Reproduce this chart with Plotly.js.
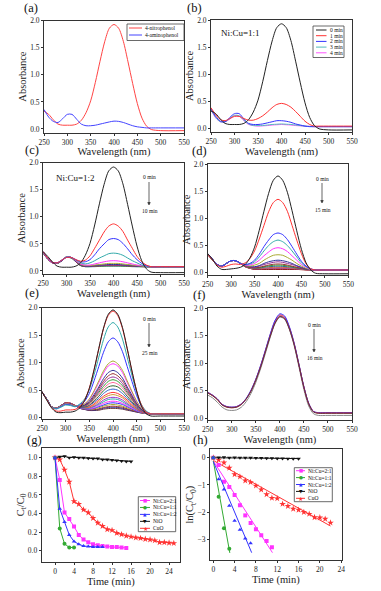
<!DOCTYPE html>
<html><head><meta charset="utf-8">
<script src="https://cdn.plot.ly/plotly-3.0.1.min.js"></script>
<style>html,body{margin:0;padding:0;background:#fff}#plot{width:381px;height:591px}</style>
</head><body><div id="plot"></div>
<script>
// ---------- DATA ----------
const W = [250,260,270,280,290,300,310,320,330,340,350,360,370,380,390,400,410,420,430,440,450,460,470,480,500,550];

// (a)
const nitrophenol = [0.33,0.27,0.17,0.09,0.07,0.07,0.07,0.09,0.16,0.30,0.52,0.86,1.25,1.61,1.86,1.93,1.86,1.62,1.24,0.84,0.47,0.20,0.05,-0.01,-0.03,-0.03];
const aminophenol = [0.36,0.22,0.14,0.12,0.19,0.27,0.27,0.18,0.09,0.06,0.06,0.07,0.09,0.11,0.13,0.145,0.14,0.12,0.09,0.06,0.04,0.03,0.02,0.02,0.02,0.02];

// (b) Ni:Cu = 1:1
const bNames = ['0 min','1 min','2 min','3 min','4 min'];
const b0 = [0.32,0.27,0.17,0.09,0.07,0.07,0.07,0.09,0.16,0.30,0.52,0.86,1.25,1.61,1.86,1.93,1.86,1.62,1.24,0.84,0.47,0.20,0.05,-0.01,-0.03,-0.03];
const b1 = [0.38,0.25,0.16,0.14,0.18,0.22,0.22,0.18,0.15,0.15,0.18,0.23,0.30,0.38,0.44,0.46,0.44,0.39,0.31,0.22,0.13,0.07,0.04,0.04,0.04,0.04];
const b2 = [0.36,0.22,0.13,0.12,0.20,0.27,0.27,0.17,0.09,0.07,0.07,0.08,0.10,0.12,0.14,0.14,0.13,0.11,0.08,0.06,0.04,0.03,0.03,0.03,0.03,0.03];
const b3 = [0.35,0.20,0.12,0.12,0.18,0.24,0.23,0.15,0.08,0.05,0.05,0.05,0.06,0.07,0.075,0.08,0.075,0.07,0.06,0.05,0.04,0.035,0.03,0.03,0.03,0.03];
const b4 = [0.34,0.19,0.12,0.12,0.17,0.23,0.22,0.14,0.07,0.05,0.04,0.045,0.05,0.06,0.065,0.07,0.065,0.06,0.05,0.045,0.04,0.035,0.03,0.03,0.03,0.03];

// (c) Ni:Cu = 1:2, 0..10 min
const c0 = [0.36,0.27,0.17,0.09,0.07,0.07,0.07,0.09,0.15,0.29,0.51,0.85,1.24,1.60,1.85,1.92,1.85,1.61,1.23,0.83,0.46,0.19,0.04,-0.02,-0.03,-0.03];
const c1 = [0.36,0.24,0.16,0.15,0.20,0.25,0.25,0.21,0.18,0.20,0.28,0.42,0.57,0.72,0.83,0.87,0.83,0.73,0.57,0.42,0.27,0.17,0.11,0.08,0.08,0.08];
const c2 = [0.36,0.24,0.16,0.15,0.20,0.25,0.25,0.21,0.17,0.17,0.21,0.30,0.41,0.50,0.58,0.60,0.58,0.51,0.41,0.30,0.21,0.14,0.10,0.08,0.08,0.08];
const c3 = [0.35,0.24,0.16,0.15,0.20,0.26,0.25,0.20,0.15,0.13,0.15,0.19,0.24,0.28,0.32,0.33,0.32,0.29,0.24,0.19,0.15,0.11,0.09,0.08,0.08,0.08];
const c4 = [0.35,0.23,0.15,0.15,0.20,0.26,0.25,0.19,0.13,0.11,0.11,0.13,0.15,0.17,0.185,0.19,0.185,0.17,0.15,0.13,0.11,0.10,0.09,0.08,0.08,0.08];
const c5 = [0.35,0.23,0.15,0.14,0.20,0.26,0.25,0.19,0.12,0.10,0.10,0.11,0.12,0.13,0.14,0.14,0.14,0.13,0.12,0.11,0.10,0.09,0.085,0.08,0.08,0.08];
const c6 = [0.35,0.23,0.15,0.14,0.19,0.26,0.25,0.18,0.11,0.09,0.09,0.10,0.11,0.115,0.12,0.12,0.12,0.115,0.11,0.10,0.09,0.085,0.08,0.08,0.08,0.08];
const c7 = [0.34,0.22,0.15,0.14,0.19,0.26,0.25,0.18,0.11,0.09,0.09,0.095,0.10,0.105,0.11,0.11,0.11,0.105,0.10,0.095,0.09,0.085,0.08,0.08,0.08,0.08];
const c8 = [0.34,0.22,0.15,0.14,0.19,0.26,0.25,0.17,0.10,0.085,0.085,0.09,0.095,0.10,0.10,0.10,0.10,0.10,0.095,0.09,0.085,0.08,0.08,0.08,0.08,0.08];
const c9 = [0.34,0.22,0.15,0.14,0.19,0.26,0.24,0.17,0.10,0.08,0.08,0.085,0.09,0.09,0.095,0.095,0.095,0.09,0.09,0.085,0.08,0.08,0.08,0.075,0.075,0.075];
const c10 = [0.33,0.22,0.15,0.14,0.19,0.25,0.24,0.17,0.10,0.08,0.08,0.08,0.085,0.09,0.09,0.09,0.09,0.09,0.085,0.08,0.08,0.08,0.075,0.075,0.075,0.075];

// (d) 0..15 min
const d0 = [0.35,0.25,0.12,0.06,0.06,0.07,0.08,0.10,0.15,0.27,0.47,0.78,1.13,1.46,1.70,1.78,1.70,1.48,1.14,0.77,0.43,0.18,0.05,-0.01,-0.02,-0.02];
const d1 = [0.34,0.24,0.14,0.10,0.12,0.15,0.16,0.15,0.18,0.26,0.40,0.62,0.87,1.12,1.29,1.35,1.29,1.13,0.87,0.60,0.35,0.16,0.07,0.05,0.05,0.05];
const d2 = [0.35,0.25,0.15,0.12,0.17,0.22,0.22,0.17,0.15,0.17,0.23,0.34,0.48,0.60,0.70,0.73,0.70,0.61,0.48,0.34,0.21,0.12,0.07,0.05,0.05,0.05];
const d3 = [0.35,0.25,0.15,0.12,0.17,0.22,0.22,0.17,0.15,0.16,0.20,0.29,0.40,0.50,0.57,0.60,0.57,0.50,0.40,0.29,0.18,0.11,0.07,0.05,0.05,0.05];
const d4 = [0.35,0.25,0.15,0.12,0.17,0.22,0.22,0.17,0.14,0.14,0.17,0.23,0.31,0.38,0.44,0.46,0.44,0.39,0.31,0.23,0.15,0.10,0.06,0.05,0.05,0.05];
const d5 = [0.35,0.25,0.15,0.12,0.17,0.22,0.22,0.17,0.13,0.12,0.14,0.17,0.23,0.28,0.32,0.33,0.32,0.28,0.23,0.17,0.12,0.08,0.06,0.05,0.05,0.05];
const d6 = [0.35,0.25,0.15,0.12,0.17,0.22,0.22,0.17,0.13,0.11,0.11,0.13,0.17,0.20,0.22,0.23,0.22,0.20,0.17,0.13,0.10,0.07,0.055,0.05,0.05,0.05];
const d7 = [0.35,0.25,0.15,0.12,0.17,0.22,0.22,0.17,0.13,0.11,0.10,0.12,0.15,0.17,0.19,0.20,0.19,0.17,0.15,0.12,0.09,0.07,0.055,0.05,0.05,0.05];
const d8 = [0.35,0.25,0.15,0.12,0.17,0.22,0.22,0.17,0.12,0.10,0.09,0.10,0.12,0.14,0.155,0.16,0.155,0.14,0.12,0.10,0.08,0.065,0.055,0.05,0.05,0.05];
const d9 = [0.34,0.24,0.15,0.12,0.17,0.22,0.22,0.17,0.12,0.10,0.09,0.095,0.11,0.125,0.135,0.14,0.135,0.125,0.11,0.095,0.08,0.065,0.055,0.05,0.05,0.05];
const d10 = [0.34,0.24,0.15,0.12,0.17,0.22,0.22,0.17,0.12,0.095,0.085,0.085,0.10,0.11,0.115,0.12,0.115,0.11,0.10,0.085,0.075,0.06,0.055,0.05,0.05,0.05];
const d11 = [0.34,0.24,0.15,0.12,0.17,0.22,0.22,0.17,0.12,0.09,0.08,0.08,0.085,0.09,0.10,0.10,0.10,0.095,0.085,0.08,0.07,0.06,0.05,0.05,0.05,0.05];
const d12 = [0.34,0.24,0.15,0.12,0.17,0.22,0.22,0.17,0.12,0.09,0.075,0.075,0.08,0.085,0.09,0.09,0.09,0.085,0.08,0.075,0.065,0.06,0.05,0.05,0.05,0.05];
const d13 = [0.34,0.24,0.15,0.12,0.17,0.22,0.22,0.17,0.11,0.085,0.07,0.07,0.075,0.08,0.08,0.08,0.08,0.08,0.075,0.07,0.065,0.055,0.05,0.05,0.05,0.05];
const d14 = [0.33,0.24,0.15,0.12,0.17,0.22,0.22,0.17,0.11,0.08,0.065,0.065,0.07,0.07,0.07,0.07,0.07,0.07,0.07,0.065,0.06,0.055,0.05,0.05,0.05,0.05];
const d15 = [0.33,0.23,0.15,0.12,0.17,0.22,0.22,0.17,0.11,0.08,0.06,0.06,0.06,0.06,0.06,0.06,0.06,0.06,0.06,0.06,0.055,0.05,0.05,0.05,0.05,0.05];

// (e) 0..25 min
const e0 = [0.47,0.32,0.18,0.10,0.09,0.10,0.10,0.12,0.18,0.31,0.53,0.87,1.26,1.63,1.88,1.96,1.88,1.64,1.26,0.85,0.48,0.21,0.07,0.03,0.03,0.03];
const e1 = [0.47,0.33,0.19,0.12,0.12,0.14,0.14,0.15,0.20,0.32,0.54,0.87,1.25,1.62,1.86,1.94,1.86,1.62,1.25,0.85,0.49,0.23,0.10,0.07,0.07,0.07];
const e2 = [0.47,0.34,0.20,0.16,0.19,0.23,0.22,0.20,0.25,0.34,0.51,0.78,1.10,1.42,1.65,1.73,1.65,1.43,1.10,0.77,0.46,0.24,0.12,0.07,0.07,0.07];
const e3 = [0.47,0.34,0.20,0.16,0.20,0.24,0.23,0.20,0.24,0.30,0.44,0.67,0.93,1.19,1.38,1.45,1.38,1.20,0.93,0.66,0.40,0.21,0.11,0.07,0.07,0.07];
const e4 = [0.47,0.34,0.20,0.17,0.21,0.25,0.24,0.21,0.22,0.25,0.34,0.49,0.67,0.85,0.98,1.03,0.98,0.86,0.67,0.48,0.30,0.17,0.10,0.07,0.07,0.07];
const e5 = [0.47,0.34,0.20,0.17,0.21,0.25,0.24,0.21,0.22,0.25,0.33,0.47,0.64,0.81,0.94,0.98,0.94,0.82,0.64,0.46,0.29,0.17,0.10,0.07,0.07,0.07];
const e6 = [0.47,0.34,0.20,0.17,0.21,0.26,0.25,0.21,0.21,0.23,0.30,0.42,0.56,0.71,0.82,0.86,0.82,0.72,0.56,0.41,0.26,0.15,0.09,0.07,0.07,0.07];
const e7 = [0.47,0.34,0.20,0.17,0.21,0.26,0.25,0.21,0.21,0.23,0.28,0.39,0.53,0.66,0.76,0.80,0.76,0.67,0.53,0.38,0.25,0.15,0.09,0.07,0.07,0.07];
const e8 = [0.47,0.34,0.20,0.17,0.22,0.26,0.25,0.21,0.20,0.22,0.27,0.37,0.49,0.62,0.71,0.74,0.71,0.62,0.49,0.36,0.23,0.14,0.09,0.07,0.07,0.07];
const e9 = [0.47,0.34,0.20,0.17,0.22,0.26,0.25,0.21,0.20,0.21,0.26,0.35,0.46,0.57,0.66,0.69,0.66,0.58,0.46,0.34,0.22,0.14,0.09,0.07,0.07,0.07];
const e10 = [0.47,0.34,0.20,0.17,0.22,0.26,0.25,0.21,0.20,0.21,0.24,0.33,0.43,0.53,0.61,0.64,0.61,0.54,0.43,0.32,0.21,0.13,0.09,0.07,0.07,0.07];
const e11 = [0.47,0.34,0.20,0.17,0.22,0.26,0.25,0.21,0.20,0.20,0.23,0.30,0.39,0.49,0.56,0.58,0.56,0.49,0.39,0.29,0.20,0.13,0.085,0.07,0.07,0.07];
const e12 = [0.47,0.34,0.20,0.17,0.22,0.26,0.25,0.21,0.19,0.19,0.22,0.28,0.35,0.44,0.50,0.52,0.50,0.44,0.35,0.27,0.18,0.12,0.085,0.07,0.07,0.07];
const e13 = [0.47,0.34,0.20,0.17,0.22,0.27,0.26,0.22,0.19,0.19,0.20,0.25,0.32,0.39,0.44,0.46,0.44,0.39,0.32,0.24,0.17,0.11,0.08,0.07,0.07,0.07];
const e14 = [0.47,0.34,0.20,0.17,0.22,0.27,0.26,0.22,0.19,0.18,0.19,0.23,0.29,0.36,0.40,0.42,0.40,0.36,0.29,0.22,0.16,0.11,0.08,0.07,0.07,0.07];
const e15 = [0.47,0.34,0.20,0.17,0.22,0.27,0.26,0.22,0.18,0.175,0.18,0.21,0.26,0.32,0.36,0.37,0.36,0.32,0.26,0.20,0.15,0.10,0.08,0.07,0.07,0.07];
const e16 = [0.47,0.34,0.20,0.17,0.22,0.27,0.26,0.22,0.18,0.17,0.17,0.20,0.24,0.29,0.33,0.34,0.33,0.29,0.24,0.19,0.14,0.10,0.08,0.07,0.07,0.07];
const e17 = [0.47,0.34,0.20,0.17,0.22,0.27,0.26,0.22,0.18,0.165,0.16,0.18,0.22,0.26,0.29,0.30,0.29,0.26,0.22,0.17,0.13,0.10,0.08,0.07,0.07,0.07];
const e18 = [0.47,0.34,0.20,0.17,0.22,0.27,0.26,0.22,0.18,0.16,0.155,0.17,0.20,0.23,0.26,0.27,0.26,0.24,0.20,0.16,0.12,0.095,0.08,0.07,0.07,0.07];
const e19 = [0.47,0.34,0.20,0.17,0.22,0.27,0.26,0.22,0.18,0.16,0.15,0.16,0.18,0.21,0.23,0.24,0.23,0.21,0.18,0.15,0.12,0.09,0.08,0.07,0.07,0.07];
const e20 = [0.47,0.34,0.20,0.17,0.22,0.27,0.26,0.22,0.17,0.155,0.14,0.145,0.16,0.185,0.20,0.21,0.20,0.19,0.16,0.135,0.11,0.09,0.075,0.07,0.07,0.07];
const e21 = [0.46,0.34,0.20,0.17,0.22,0.27,0.26,0.22,0.17,0.15,0.135,0.135,0.15,0.17,0.185,0.19,0.185,0.17,0.15,0.125,0.105,0.085,0.075,0.07,0.07,0.07];
const e22 = [0.46,0.34,0.20,0.17,0.22,0.27,0.26,0.22,0.17,0.15,0.13,0.13,0.135,0.155,0.165,0.17,0.165,0.155,0.135,0.12,0.10,0.085,0.075,0.07,0.07,0.07];

// (f) 0..16 min
const f0 = [0.42,0.37,0.29,0.20,0.15,0.14,0.15,0.20,0.30,0.45,0.65,0.90,1.18,1.47,1.72,1.84,1.80,1.61,1.31,0.92,0.52,0.22,0.08,0.05,0.05,0.05];
const f1 = [0.46,0.41,0.34,0.24,0.20,0.19,0.20,0.25,0.35,0.50,0.70,0.95,1.23,1.52,1.77,1.88,1.84,1.65,1.35,0.96,0.56,0.26,0.12,0.09,0.09,0.09];
const f2 = [0.47,0.42,0.35,0.25,0.21,0.20,0.21,0.26,0.36,0.51,0.71,0.96,1.24,1.53,1.78,1.90,1.86,1.66,1.36,0.97,0.57,0.27,0.12,0.10,0.10,0.10];
const f3 = [0.47,0.42,0.35,0.25,0.21,0.20,0.21,0.26,0.35,0.50,0.70,0.94,1.22,1.50,1.74,1.86,1.82,1.63,1.34,0.96,0.57,0.27,0.12,0.10,0.10,0.10];
const f4 = [0.46,0.41,0.34,0.24,0.20,0.19,0.20,0.25,0.35,0.49,0.69,0.93,1.21,1.49,1.73,1.85,1.81,1.62,1.33,0.95,0.56,0.26,0.11,0.09,0.09,0.09];

// (g) Ct/C0 vs time
const catNames = ['Ni:Cu=2:1','Ni:Cu=1:1','Ni:Cu=1:2','NiO','CuO'];
const tNiCu21 = [0,1,2,3,4,5,6,7,8,9,10,11,12,13,14,15];
const gNiCu21 = [1.0,0.76,0.41,0.34,0.26,0.17,0.12,0.09,0.07,0.06,0.05,0.045,0.04,0.04,0.035,0.03];
const tNiCu11 = [0,1,2,3,4];
const gNiCu11 = [1.0,0.24,0.075,0.035,0.035];
const tNiCu12 = [0,1,2,3,4,5,6,7,8,9,10];
const gNiCu12 = [1.0,0.45,0.31,0.17,0.10,0.07,0.05,0.045,0.04,0.04,0.04];
const tNiO = [0,1,2,3,4,5,6,7,8,9,10,11,12,13,14,15,16];
const gNiO = [1.0,1.01,1.015,1.0,1.005,1.0,1.0,0.995,0.99,0.99,0.98,0.98,0.975,0.97,0.965,0.96,0.96];
const tCuO = [0,1,2,3,4,5,6,7,8,9,10,11,12,13,14,15,16,17,18,19,20,21,22,23,24,25];
const gCuO = [1.0,0.98,0.87,0.74,0.53,0.50,0.44,0.41,0.35,0.30,0.265,0.23,0.22,0.19,0.175,0.16,0.15,0.14,0.135,0.125,0.12,0.11,0.09,0.09,0.085,0.08];

// (h) ln(Ct/C0) vs time, points and fitted lines
const hT21 = [0,1,2,3,4,5,6,7,8,9,10,11];
const hNiCu21 = [0,-0.27,-0.88,-1.08,-1.37,-1.75,-2.12,-2.40,-2.63,-2.85,-3.06,-3.29];
const hT11 = [0,1,2,3];
const hNiCu11 = [0,-1.43,-2.59,-3.35];
const hT12 = [0,1,2,3,4,5,6,7];
const hNiCu12 = [0,-0.79,-1.17,-1.77,-2.32,-2.65,-2.97,-3.14];
const hTNiO = [0,1,2,3,4,5,6,7,8,9,10,11,12,13,14,15,16];
const hNiO = [0,0.01,0.015,0,0.005,0,0,-0.005,-0.01,-0.01,-0.02,-0.02,-0.025,-0.03,-0.035,-0.04,-0.04];
const hTCuO = [0,1,2,3,4,5,6,7,8,9,10,11,12,13,14,15,16,17,18,19,20,21,22];
const hCuO = [0,-0.08,-0.18,-0.37,-0.61,-0.70,-0.84,-0.90,-1.03,-1.17,-1.35,-1.48,-1.50,-1.70,-1.78,-1.88,-1.92,-2.00,-2.07,-2.19,-2.20,-2.25,-2.39];
const fitT21 = [0,11.1],  fitY21 = [-0.12,-3.49];
const fitT11 = [0,3.1],   fitY11 = [-0.12,-3.50];
const fitT12 = [0,7.2],   fitY12 = [-0.14,-3.49];
const fitTNiO = [0,16],   fitYNiO = [0.0,-0.03];
const fitTCuO = [0,22],   fitYCuO = [-0.10,-2.51];

// ---------- STYLE ----------
const FW = 381, FH = 591;
const SERIF = 'Liberation Serif';
const AX = '#333';
const colsC = ['#222222','#ff3333','#3333ff','#33aaaa','#ff33ff','#aaaa33','#333399','#993399','#993333','#339933','#336699'];
const colsD = ['#222222','#ff3333','#3333ff','#33aaaa','#ff33ff','#aaaa33','#333399','#993399','#993333','#339933','#336699','#cc6633','#9966cc','#cc3366','#663333','#990000'];
const colsE = ['#222222','#ff3333','#33aaaa','#3333ff','#aaaa33','#ff33ff','#333399','#993333','#993399','#339933','#ff6699','#336633','#3366cc','#ff3333','#cc9933','#9933cc','#33aaaa','#ff33ff','#3333ff','#aaaa33','#993333','#333399','#663333'];
const colsF = ['#888888','#ff3333','#3333ff','#993399','#663333'];
const bCols = ['#222222','#ff3333','#3333ff','#55bbbb','#ff55ff'];
const catCols = ['#ff33ff','#33aa33','#3333ff','#111111','#ff3333'];
const catSyms = ['square','circle','triangle-up','triangle-down','star'];
const catGlyph = ['\u25A0','\u25CF','\u25B2','\u25BC','\u2605'];

function xp(px){ return px/FW; }
function yp(py){ return 1 - py/FH; }

const traces = [];
function spec(ax, ys, color){
  traces.push({x: W, y: ys, xaxis: 'x'+ax, yaxis: 'y'+ax, mode: 'lines', type: 'scatter',
    line: {color: color, width: 1, shape: 'spline', smoothing: 0.8}, hoverinfo: 'skip'});
}
function specSet(ax, sets, cols){
  for (let i = sets.length-1; i >= 0; i--) spec(ax, sets[i], cols[i]);
}
spec('', nitrophenol, '#ff4444');
spec('', aminophenol, '#4444ff');
specSet('2', [b0,b1,b2,b3,b4], bCols);
specSet('3', [c0,c1,c2,c3,c4,c5,c6,c7,c8,c9,c10], colsC);
specSet('4', [d0,d1,d2,d3,d4,d5,d6,d7,d8,d9,d10,d11,d12,d13,d14,d15], colsD);
specSet('5', [e0,e1,e2,e3,e4,e5,e6,e7,e8,e9,e10,e11,e12,e13,e14,e15,e16,e17,e18,e19,e20,e21,e22], colsE);
[f0,f1,f2,f3,f4].forEach((s,i)=>spec('6', s, colsF[i]));

// (g)
const gT = [tNiCu21,tNiCu11,tNiCu12,tNiO,tCuO];
const gY = [gNiCu21,gNiCu11,gNiCu12,gNiO,gCuO];
[4,3,0,1,2].forEach(i=>{
  traces.push({x: gT[i], y: gY[i], xaxis:'x7', yaxis:'y7', mode:'lines+markers', type:'scatter', name: catNames[i],
    line:{color: catCols[i], width: 1}, marker:{symbol: catSyms[i], size: i===4?5:4, color: catCols[i]}, hoverinfo:'skip'});
});
// (h)
const hT = [hT21,hT11,hT12,hTNiO,hTCuO];
const hY = [hNiCu21,hNiCu11,hNiCu12,hNiO,hCuO];
const fT = [fitT21,fitT11,fitT12,fitTNiO,fitTCuO];
const fY = [fitY21,fitY11,fitY12,fitYNiO,fitYCuO];
[4,3,0,1,2].forEach(i=>{
  traces.push({x: fT[i], y: fY[i], xaxis:'x8', yaxis:'y8', mode:'lines', type:'scatter', line:{color: catCols[i], width: 1}, hoverinfo:'skip'});
  traces.push({x: hT[i], y: hY[i], xaxis:'x8', yaxis:'y8', mode:'markers', type:'scatter', name: catNames[i],
    marker:{symbol: catSyms[i], size: i===4?5:4, color: catCols[i]}, hoverinfo:'skip'});
});

// ---------- AXES ----------
const layout = {width: FW, height: FH, margin:{l:0,r:0,t:0,b:0}, showlegend:false,
  paper_bgcolor:'#fff', plot_bgcolor:'#fff', font:{family: SERIF, color:'#222'},
  annotations: [], shapes: []};

function axes(id, L, R, T, B, xr, yr, xticks, yticks, yfmt, xt, yt){
  const common = {showline:true, linecolor:AX, linewidth:1, mirror:true, ticks:'outside', ticklen:2, tickwidth:1, tickcolor:AX,
    showgrid:false, zeroline:false, tickfont:{family:SERIF, size:7.5, color:'#222'}, fixedrange:true};
  layout['xaxis'+id] = Object.assign({}, common, {domain:[xp(L), xp(R)], range: xr, tickvals: xticks,
    anchor: 'y'+id, title:{text: xt, font:{family:SERIF, size:10.5, color:'#222'}, standoff: 1}});
  layout['yaxis'+id] = Object.assign({}, common, {domain:[yp(B), yp(T)], range: yr, tickvals: yticks, tickformat: yfmt,
    anchor: 'x'+id, title:{text: yt, font:{family:SERIF, size:10.5, color:'#222'}, standoff: 1}});
}
const wlT = [250,300,350,400,450,500,550], abT = [0,0.5,1.0,1.5,2.0];
axes('', 44, 184, 20.7, 132.5, [250,550], [-0.065,2.0], wlT, abT, '.1f', 'Wavelength (nm)', 'Absorbance');
axes('2', 211, 352, 20, 131.8, [250,550], [-0.065,2.0], wlT, abT, '.1f', 'Wavelength (nm)', 'Absorbance');
axes('3', 43, 184, 162.7, 273.7, [250,550], [-0.05,2.0], wlT, abT, '.1f', 'Wavelength (nm)', 'Absorbance');
axes('4', 207.7, 348.3, 164, 275.4, [250,550], [-0.05,2.0], wlT, abT, '.1f', 'Wavelength (nm)', 'Absorbance');
axes('5', 42, 184, 307.7, 419.3, [250,550], [-0.03,2.0], wlT, abT, '.1f', 'Wavelength (nm)', 'Absorbance');
axes('6', 207.7, 352, 308.3, 419.8, [250,550], [-0.03,2.0], wlT, abT, '.1f', 'Wavelength (nm)', 'Absorbance');
axes('7', 41.7, 180, 448, 561.7, [-2.8,26.3], [-0.118,1.104], [0,4,8,12,16,20,24], [0,0.2,0.4,0.6,0.8,1.0], '.1f', 'Time (min)', 'C<sub>t</sub>/C<sub>0</sub>');
axes('8', 210, 341.7, 449.3, 560, [-0.62,24.1], [-3.76,0.31], [0,4,8,12,16,20,24], [0,-1,-2,-3], 'd', 'Time (min)', 'ln(C<sub>t</sub>/C<sub>0</sub>)');

// ---------- ANNOTATIONS ----------
function txt(x, y, s, size, opts){
  layout.annotations.push(Object.assign({xref:'paper', yref:'paper', x: xp(x), y: yp(y), text: s, showarrow:false,
    xanchor:'center', yanchor:'middle', font:{family:SERIF, size: size, color:'#111'}}, opts||{}));
}
// panel labels
[['(a)',31,8.5],['(b)',194,8.5],['(c)',32,150],['(d)',199,151],['(e)',32,293],['(f)',199,295],['(g)',34,440],['(h)',200,440]]
  .forEach(p=>txt(p[1], p[2], p[0], 12.5));
txt(241, 33, 'Ni:Cu=1:1', 9);
txt(75, 178, 'Ni:Cu=1:2', 9);

function arrowNote(x, yTop, yA0, yA1, yBot, t0, t1){
  txt(x, yTop, t0, 5.5);
  txt(x+1, yBot, t1, 5.5);
  layout.shapes.push({type:'line', xref:'paper', yref:'paper', x0: xp(x), x1: xp(x), y0: yp(yA0), y1: yp(yA1-2),
    line:{color:'#222', width:0.7}});
  layout.shapes.push({type:'path', xref:'paper', yref:'paper',
    path: 'M '+xp(x-1.3)+' '+yp(yA1-2.5)+' L '+xp(x+1.3)+' '+yp(yA1-2.5)+' L '+xp(x)+' '+yp(yA1)+' Z',
    fillcolor:'#222', line:{color:'#222', width:0.5}});
}
arrowNote(149, 177, 182, 205, 211, '0 min', '10 min');
arrowNote(322, 179, 183, 203, 210, '0 min', '15 min');
arrowNote(149, 319, 323, 347, 353, '0 min', '25 min');
arrowNote(314, 325, 329, 352, 358, '0 min', '16 min');

// manual legends
function legBox(x0, y0, x1, y1){
  layout.shapes.push({type:'rect', xref:'paper', yref:'paper', x0: xp(x0), x1: xp(x1), y0: yp(y1), y1: yp(y0),
    line:{color:'#444', width:0.8}, fillcolor:'#fff', layer:'above'});
}
function legLine(x0, x1, y, color){
  layout.shapes.push({type:'line', xref:'paper', yref:'paper', x0: xp(x0), x1: xp(x1), y0: yp(y), y1: yp(y),
    line:{color: color, width: 1}, layer:'above'});
}
function legText(x, y, s){ txt(x, y, s, 5.5, {xanchor:'left'}); }

legBox(127, 24, 184, 40.5);
legLine(129, 142, 28, '#ff4444'); legText(143, 28, '4-nitrophenol');
legLine(129, 142, 35, '#4444ff'); legText(143, 35, '4-aminophenol');

legBox(313, 26, 344, 57.5);
bNames.forEach((n,i)=>{ const y = 30 + i*5.7; legLine(316, 326.5, y, bCols[i]); legText(327.5, y, n); });

function catLegend(x0, x1, y0, y1, lx0, lx1, tx, yStart, dy){
  legBox(x0, y0, x1, y1);
  catNames.forEach((n,i)=>{
    const y = yStart + i*dy;
    legLine(lx0, lx1, y, catCols[i]);
    txt((lx0+lx1)/2, y+0.3, catGlyph[i], i===4?6:5, {font:{family:'DejaVu Sans', size: i===4?6:4.5, color: catCols[i]}});
    legText(tx, y, n);
  });
}
catLegend(138.3, 175.7, 496.7, 531.7, 140, 150, 151, 500.5, 6.95);
catLegend(294.3, 332.3, 467.7, 501.7, 296, 305, 306, 470.7, 6.9);

Plotly.newPlot('plot', traces, layout, {staticPlot:true, displayModeBar:false});
</script></body></html>
